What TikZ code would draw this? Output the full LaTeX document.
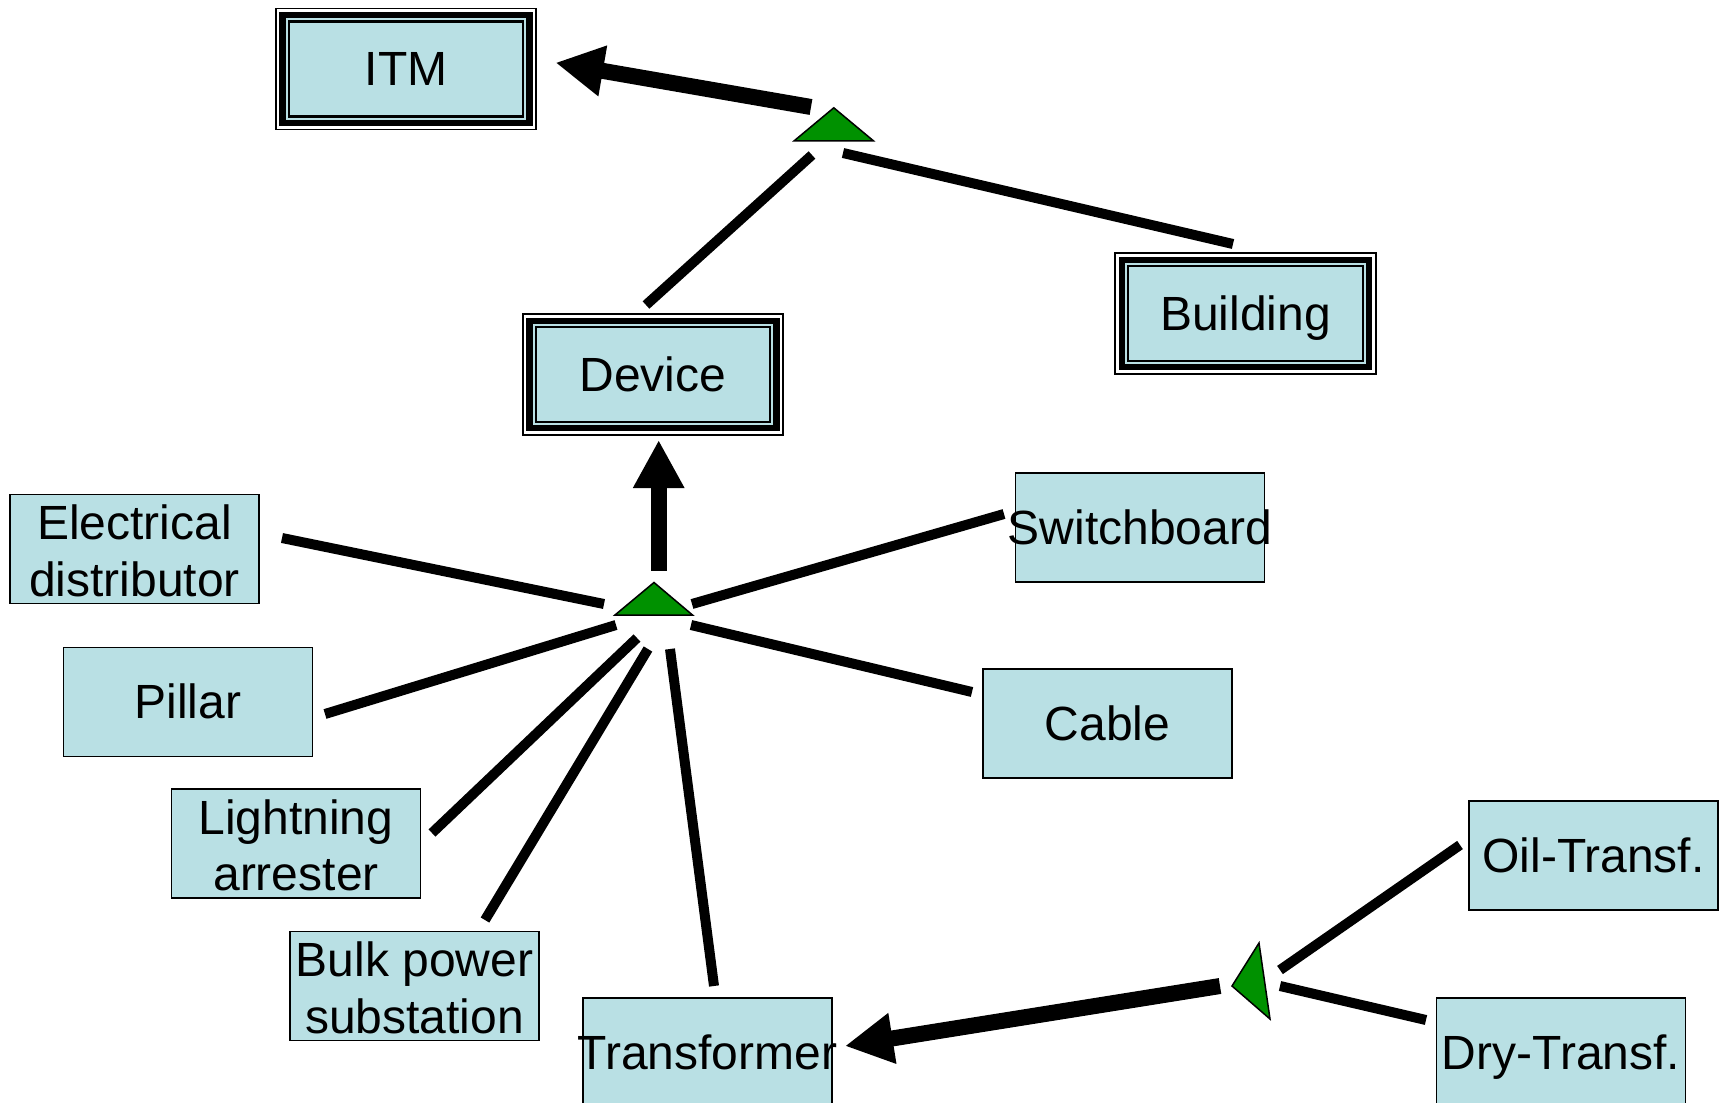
\documentclass[tikz,border=0pt]{standalone}
\usepackage{fontspec}
\setmainfont{Liberation Sans}
\usetikzlibrary{arrows.meta}
\definecolor{boxblue}{RGB}{185,224,228}
\definecolor{trigreen}{RGB}{0,145,0}
\newcommand{\arstrut}{\rule[-0.212em]{0pt}{1.117em}}
\begin{document}
\begin{tikzpicture}[x=0.5pt,y=-0.5pt,
  every node/.style={font=\fontsize{24pt}{28.3pt}\selectfont, align=center, inner sep=0pt,
     execute at begin node=\arstrut, execute at end node=\arstrut},
  plainbox/.style={draw=black, line width=0.8pt, fill=boxblue, minimum width=124.5pt, minimum height=54.5pt},
  twotext/.style={yshift=-3.3pt},
  dbox/.style={draw=black, line width=1.15pt, fill=boxblue, minimum width=117.2pt, minimum height=47.4pt,
     preaction={draw=black,line width=13.85pt},
     preaction={draw=white,line width=12.15pt},
     preaction={draw=black,line width=9.45pt},
     preaction={draw=boxblue,line width=3.15pt}},
  link/.style={line width=5pt},
  bigarrow/.style={line width=8pt, -{Triangle[length=24pt,width=24pt]}},
  tri/.style={fill=trigreen, draw=black, line width=0.75pt, line join=miter}
]
\useasboundingbox (0,0) rectangle (1725,1103);

% double-border boxes
\node[dbox] (itm) at (406,69) {ITM};
\node[dbox] (dev) at (653,374.5) {Device};
\node[dbox] (bld) at (1245.5,313.5) {Building};

% plain boxes
\node[plainbox] (ed) at (134.5,549) {};
\node[twotext] (edt) at (ed.center) {Electrical\\distributor};
\node[plainbox] (sw) at (1140,527.5) {\makebox[0pt]{Switchboard}};
\node[plainbox] (pi) at (188,702) {Pillar};
\node[plainbox] (ca) at (1107.5,723.5) {Cable};
\node[plainbox] (la) at (296,843.5) {};
\node[twotext] (lat) at (la.center) {Lightning\\arrester};
\node[plainbox] (bp) at (414.5,986) {};
\node[twotext] (bpt) at (bp.center) {Bulk power\\substation};
\node[plainbox] (tr) at (707.5,1052.5) {\makebox[0pt]{Transformer}};
\node[plainbox] (oil) at (1593.5,855.5) {Oil-Transf.};
\node[plainbox] (dry) at (1561,1052.5) {Dry-Transf.};

% triangles
\coordinate (t1a) at (794.2,140.8);
\coordinate (t1b) at (873.4,140.8);
\coordinate (t1c) at (833.8,107.8);
\draw[tri] (t1a) -- (t1b) -- (t1c) -- cycle;
\coordinate (t2a) at (615,615);
\coordinate (t2b) at (692.5,615);
\coordinate (t2c) at (654,582.5);
\draw[tri] (t2a) -- (t2b) -- (t2c) -- cycle;
\coordinate (t3a) at (1259,943);
\coordinate (t3b) at (1232,986);
\coordinate (t3c) at (1270,1019);
\draw[tri] (t3a) -- (t3b) -- (t3c) -- cycle;

% connector end points
\coordinate (itmS) at (811,107);   \coordinate (itmE) at (555.5,62.7);
\coordinate (devA) at (646,305);   \coordinate (devB) at (812,155);
\coordinate (bldA) at (1233,244);  \coordinate (bldB) at (843,153);
\coordinate (devS) at (658.7,570.7); \coordinate (devE) at (658.7,440);
\coordinate (edA) at (282,538);    \coordinate (edB) at (604,604);
\coordinate (swA) at (1004,514);   \coordinate (swB) at (692,604);
\coordinate (piA) at (325,714);    \coordinate (piB) at (616,625);
\coordinate (caA) at (972,692);    \coordinate (caB) at (691,625);
\coordinate (laA) at (432,833);    \coordinate (laB) at (637,638);
\coordinate (bpA) at (485,920);    \coordinate (bpB) at (648,649);
\coordinate (trA) at (714,986);    \coordinate (trB) at (670,649);
\coordinate (trS) at (1220,986);   \coordinate (trE) at (845,1046);
\coordinate (oilA) at (1460,845);  \coordinate (oilB) at (1280,970);
\coordinate (dryA) at (1426,1020); \coordinate (dryB) at (1280,986);

% connectors
\draw[bigarrow] (itmS) -- (itmE);
\draw[link] (devA) -- (devB);
\draw[link] (bldA) -- (bldB);
\draw[bigarrow] (devS) -- (devE);
\draw[link] (edA) -- (edB);
\draw[link] (swA) -- (swB);
\draw[link] (piA) -- (piB);
\draw[link] (caA) -- (caB);
\draw[link] (laA) -- (laB);
\draw[link] (bpA) -- (bpB);
\draw[link] (trA) -- (trB);
\draw[bigarrow] (trS) -- (trE);
\draw[link] (oilA) -- (oilB);
\draw[link] (dryA) -- (dryB);
\end{tikzpicture}
\end{document}
